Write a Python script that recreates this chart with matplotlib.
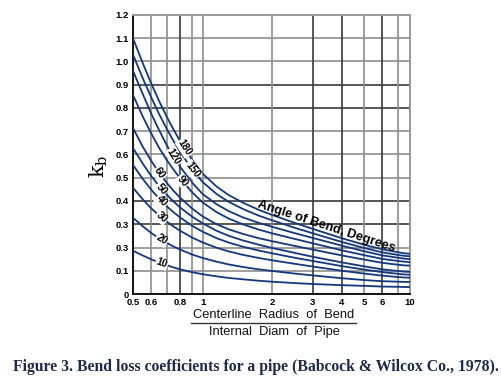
import numpy as np
import matplotlib
matplotlib.use("Agg")
import matplotlib.pyplot as plt
from matplotlib.lines import Line2D

# ---------------- data ----------------
radius_ratio = [0.5, 0.55, 0.6, 0.65, 0.7, 0.75, 0.8, 0.9, 1.0, 1.15, 1.3, 1.5, 1.75,
                2.0, 2.5, 3, 4, 5, 6, 7, 8.5, 10]
angles = [180, 150, 120, 90, 60, 50, 40, 30, 20, 10]
kb_180 = [1.100, 0.995, 0.905, 0.828, 0.762, 0.706, 0.657, 0.578, 0.518, 0.462, 0.425,
          0.392, 0.362, 0.340, 0.306, 0.280, 0.240, 0.212, 0.192, 0.180, 0.175, 0.173]
kb_150 = [1.030, 0.930, 0.845, 0.772, 0.710, 0.657, 0.611, 0.537, 0.482, 0.430, 0.396,
          0.365, 0.337, 0.317, 0.285, 0.261, 0.224, 0.198, 0.179, 0.168, 0.164, 0.162]
kb_120 = [0.960, 0.862, 0.775, 0.703, 0.640, 0.590, 0.547, 0.480, 0.430, 0.386, 0.356,
          0.329, 0.306, 0.289, 0.262, 0.241, 0.208, 0.184, 0.166, 0.156, 0.152, 0.150]
kb_90 = [0.856, 0.765, 0.690, 0.627, 0.576, 0.534, 0.497, 0.438, 0.394, 0.352, 0.324,
         0.299, 0.277, 0.261, 0.237, 0.218, 0.188, 0.167, 0.151, 0.142, 0.139, 0.137]
kb_60 = [0.714, 0.635, 0.572, 0.520, 0.478, 0.443, 0.414, 0.368, 0.334, 0.300, 0.278,
         0.258, 0.240, 0.227, 0.207, 0.191, 0.166, 0.148, 0.134, 0.126, 0.123, 0.122]
kb_50 = [0.628, 0.562, 0.507, 0.463, 0.427, 0.397, 0.372, 0.333, 0.304, 0.272, 0.250,
         0.230, 0.212, 0.198, 0.177, 0.160, 0.136, 0.119, 0.106, 0.099, 0.096, 0.095]
kb_40 = [0.555, 0.496, 0.448, 0.409, 0.377, 0.351, 0.329, 0.294, 0.268, 0.240, 0.221,
         0.203, 0.187, 0.175, 0.156, 0.142, 0.120, 0.105, 0.094, 0.087, 0.084, 0.083]
kb_30 = [0.457, 0.408, 0.368, 0.337, 0.311, 0.290, 0.272, 0.243, 0.222, 0.199, 0.183,
         0.168, 0.155, 0.145, 0.130, 0.118, 0.100, 0.088, 0.079, 0.073, 0.071, 0.070]
kb_20 = [0.328, 0.292, 0.262, 0.239, 0.220, 0.204, 0.191, 0.170, 0.155, 0.139, 0.127,
         0.116, 0.106, 0.099, 0.088, 0.080, 0.068, 0.060, 0.055, 0.053, 0.052, 0.052]
kb_10 = [0.186, 0.166, 0.149, 0.135, 0.124, 0.114, 0.106, 0.094, 0.085, 0.076, 0.069,
         0.063, 0.057, 0.053, 0.047, 0.043, 0.038, 0.035, 0.032, 0.031, 0.030, 0.030]
series = [kb_180, kb_150, kb_120, kb_90, kb_60, kb_50, kb_40, kb_30, kb_20, kb_10]

x_ticks = [0.5, 0.6, 0.8, 1, 2, 3, 4, 5, 6, 10]
x_tick_labels = ["0.5", "0.6", "0.8", "1", "2", "3", "4", "5", "6", "10"]
y_ticks = [0, 0.1, 0.2, 0.3, 0.4, 0.5, 0.6, 0.7, 0.8, 0.9, 1.0, 1.1, 1.2]
y_tick_labels = ["0", "0.1", "0.3", "0.3", "0.4", "0.5", "0.6", "0.7", "0.8", "0.9", "1.0", "1.1", "1.2"]
x_grid = [0.6, 0.7, 0.8, 0.9, 1, 2, 3, 4, 5, 6, 7]
label_x = [0.836, 0.905, 0.75, 0.82, 0.651, 0.665, 0.665, 0.665, 0.665, 0.665]

# ---------------- scale (chart compresses the last segment 7..10) ----------------
L7 = np.log10(7.0)
K = (np.log10(7.9) - L7) / (1 - L7)


def fwd(x):
    x = np.maximum(np.asarray(x, dtype=float), 1e-9)
    l = np.log10(x)
    return np.where(l <= L7, l, L7 + (l - L7) * K)


def inv(y):
    y = np.asarray(y, dtype=float)
    return np.where(y <= L7, 10.0 ** y, 10.0 ** (L7 + (y - L7) / K))


# ---------------- figure ----------------
fig = plt.figure(figsize=(5.02, 3.79), dpi=100)
ax = fig.add_axes([133 / 502, 1 - 294 / 379, (410 - 133) / 502, (294 - 15) / 379])
ax.set_xscale("function", functions=(fwd, inv))
ax.set_xlim(0.5, 10)
ax.set_ylim(0, 1.2)

dark = "#3a3a3a"
gray = "#8e8e8e"
y_dark = {0.3, 0.4, 0.8, 0.9}
for yv in y_ticks[1:-1]:
    ax.axhline(yv, color=dark if round(yv, 1) in y_dark else gray, lw=1.2, zorder=1)
x_dark = {0.8, 3, 4, 6}
for xv in x_grid:
    ax.axvline(xv, color=dark if xv in x_dark else gray, lw=1.2, zorder=1)

for s in ["left", "bottom"]:
    ax.spines[s].set_color("#111111")
    ax.spines[s].set_linewidth(1.4)
for s in ["top", "right"]:
    ax.spines[s].set_color("#999999")
    ax.spines[s].set_linewidth(1.4)

curve_color = "#13377f"
for vals in series:
    ax.plot(radius_ratio, vals, color=curve_color, lw=1.3, zorder=3)

ax.set_xticks(x_ticks)
ax.set_xticklabels(x_tick_labels)
ax.set_yticks(y_ticks)
ax.set_yticklabels(y_tick_labels)
ax.minorticks_off()
ax.tick_params(length=0, pad=3)
for t in ax.get_xticklabels() + ax.get_yticklabels():
    t.set_fontfamily("Liberation Sans")
    t.set_fontweight("bold")
    t.set_fontsize(6.8)

# curve labels
fig.canvas.draw()
for ang, vals, lx in zip(angles, series, label_x):
    ly = np.interp(lx, radius_ratio, vals)
    p1 = ax.transData.transform((lx * 0.96, np.interp(lx * 0.96, radius_ratio, vals)))
    p2 = ax.transData.transform((lx * 1.04, np.interp(lx * 1.04, radius_ratio, vals)))
    rot = np.degrees(np.arctan2(p2[1] - p1[1], p2[0] - p1[0]))
    ax.text(lx, ly, str(ang), rotation=rot, rotation_mode="anchor",
            ha="center", va="center", fontsize=7.3, fontweight="bold",
            family="Liberation Sans", color="black", zorder=5,
            bbox=dict(boxstyle="square,pad=0.08", fc="white", ec="none"))

ax.text(3.42, 0.29, "Angle of Bend, Degrees", rotation=-18, rotation_mode="anchor",
        ha="center", va="center", fontsize=9.2, fontweight="bold",
        family="Liberation Sans", color="black", zorder=5)

# y label
fig.text(99 / 502, 1 - 166 / 379, r"k$_{\mathrm{b}}$", rotation=90, fontsize=15,
         family="DejaVu Serif", ha="center", va="center",
         math_fontfamily="dejavuserif")

# x label as fraction
fig.text(274 / 502, 1 - 315 / 379, "Centerline  Radius  of  Bend", ha="center", va="center",
         fontsize=9.3, family="Liberation Sans", color="#111111")
fig.add_artist(Line2D([191 / 502, 356 / 502], [1 - 322.5 / 379, 1 - 322.5 / 379],
                      color="#333333", lw=1.0))
fig.text(274 / 502, 1 - 332 / 379, "Internal  Diam  of  Pipe", ha="center", va="center",
         fontsize=9.3, family="Liberation Sans", color="#111111")

# caption
fig.text(256 / 502, 1 - 367 / 379,
         "Figure 3. Bend loss coefficients for a pipe (Babcock & Wilcox Co., 1978).",
         ha="center", va="center", fontsize=11.3, fontweight="bold",
         family="Liberation Serif", color="#1c2a48")

fig.savefig("out.png", dpi=100)
